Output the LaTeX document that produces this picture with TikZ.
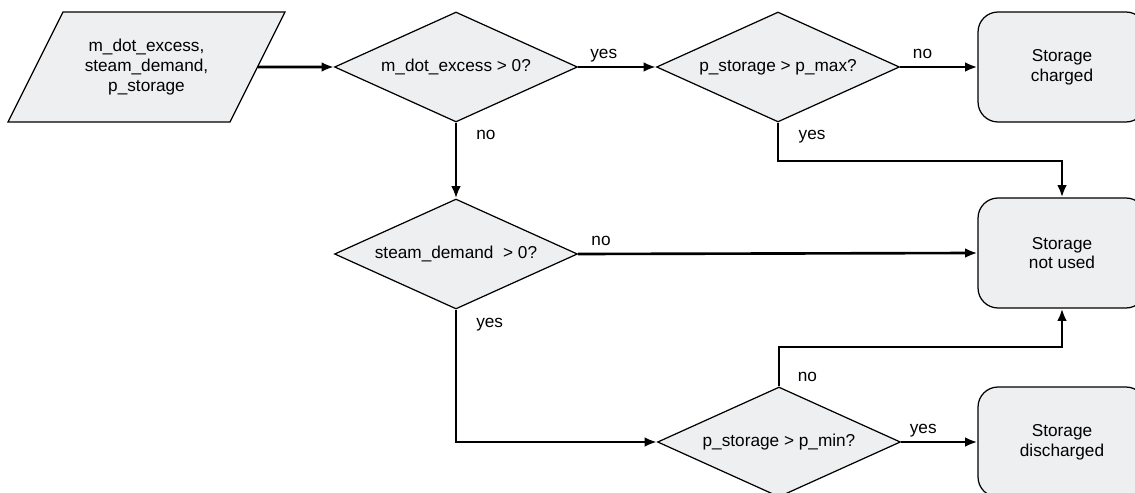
\documentclass[tikz,border=0pt]{standalone}
\usepackage{fontspec}
\setmainfont{Liberation Sans}
\usetikzlibrary{shapes.geometric,arrows.meta,positioning}

\definecolor{boxfill}{HTML}{EEEFF1}

\tikzset{
  shape base/.style={draw, fill=boxfill, line width=0.7pt, inner sep=0pt, align=center},
  inbox/.style={shape base, trapezium, trapezium left angle=63.4, trapezium right angle=116.6,
    text width=3.34cm, text height=2.2cm, text depth=0pt},
  decision/.style={shape base, diamond, aspect=2.2, minimum width=4.86cm, minimum height=2.2cm},
  result/.style={shape base, rounded corners=0.4cm, minimum width=3.36cm, minimum height=2.2cm},
  flow/.style={line width=1.5pt, -{Latex[length=7pt,width=5.5pt]}},
  lbl/.style={inner sep=0pt, text depth=0pt}
}

\begin{document}
\begin{tikzpicture}[x=0.02cm, y=-0.02cm, font=\fontsize{9.8pt}{11.3pt}\selectfont]
    \useasboundingbox (0,0) rectangle (1135,493);

    % Input
    \node[inbox, label={[align=center]center:m\_dot\_excess,\\steam\_demand,\\p\_storage}] (in) at (146.5,67) {};

    % Decisions
    \node[decision] (excess) at (456,67) {m\_dot\_excess > 0?};
    \node[decision] (pmax) at (778,67) {p\_storage > p\_max?};
    \node[decision] (demand) at (456,254) {steam\_demand\ \ > 0?};
    \node[decision] (pmin) at (779,442) {p\_storage > p\_min?};

    % Results
    \node[result] (charged) at (1062,67) {Storage\\charged};
    \node[result] (unused) at (1062,253) {Storage\\not used};
    \node[result] (discharged) at (1062,442) {Storage\\discharged};

    % Bend points
    \coordinate (k1) at (778,161);
    \coordinate (k2) at (456,442);
    \coordinate (k3) at (779,347);

    % Connectors
    \draw[flow] (in.east) -- (excess.west);
    \draw[flow] (excess.east) -- node[lbl, pos=0.33, above=4pt] {yes} (pmax.west);
    \draw[flow] (pmax.east) -- node[lbl, pos=0.29, above=4pt] {no} (charged.west);
    \draw[flow] (pmax.south) -- node[lbl, pos=0.31, right=11pt] {yes} (k1) -| (unused.north);
    \draw[flow] (excess.south) -- node[lbl, pos=0.16, right=10.8pt] {no} (demand.north);
    \draw[flow] (demand.east) -- node[lbl, pos=0.0575, above=4pt] {no} (unused.west);
    \draw[flow] (demand.south) -- node[lbl, pos=0.1, right=10.8pt] {yes} (k2) -- (pmin.west);
    \draw[flow] (pmin.north) -- node[lbl, pos=0.25, right=10pt] {no} (k3) -| (unused.south);
    \draw[flow] (pmin.east) -- node[lbl, pos=0.29, above=4pt] {yes} (discharged.west);
\end{tikzpicture}
\end{document}
